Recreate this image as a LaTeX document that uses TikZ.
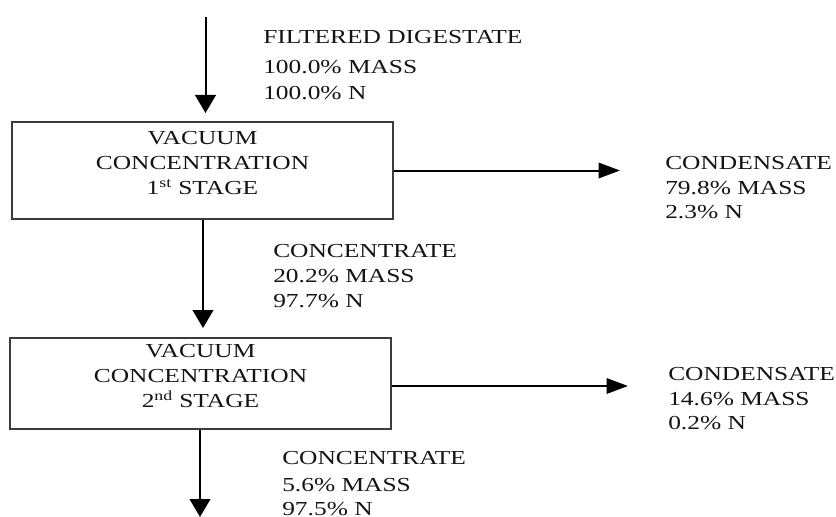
\documentclass[tikz,border=0pt]{standalone}
\usepackage{fontspec}
\setmainfont[FakeStretch=1.28]{Liberation Serif}
\usetikzlibrary{arrows.meta}

\definecolor{ink}{HTML}{141414}
\definecolor{frame}{HTML}{3C3C3C}

\tikzset{
  stagebox/.style={draw=frame, line width=1pt, rectangle, inner sep=0pt,
    align=center, text=ink, font=\fontsize{14.9}{18.75}\selectfont,
    text depth=11pt},
  lbl/.style={anchor=base west, inner sep=0pt, text=ink,
    font=\fontsize{14.9}{18.75}\selectfont},
  down/.style={draw=black, line width=1.5pt,
    -{Triangle[length=13.5pt,width=15.5pt]}},
  side/.style={draw=black, line width=1.5pt,
    -{Triangle[length=16pt,width=11.5pt]}},
}

\begin{document}
\begin{tikzpicture}[x=0.75pt,y=-0.75pt]
  \useasboundingbox (0,0) rectangle (836,517);

  % process stages
  \node[stagebox, minimum width=285.75pt, minimum height=72.75pt] (s1) at (202.5,170.5)
    {VACUUM\\CONCENTRATION\\1\textsuperscript{st} STAGE};
  \node[stagebox, minimum width=285.75pt, minimum height=68.25pt] (s2) at (200.5,383.5)
    {VACUUM\\CONCENTRATION\\2\textsuperscript{nd} STAGE};

  % free ends of the flows
  \coordinate (feed) at (205.5,17);
  \coordinate (in1) at (205.5,113);
  \coordinate (in2) at (203,328);
  \coordinate (out2) at (200,517);
  \coordinate (cond1) at (620,170.5);
  \coordinate (cond2) at (628,386);

  % flows
  \draw[down] (feed) -- (in1);
  \draw[down] (s1.south -| in2) -- (in2);
  \draw[down] (s2.south -| out2) -- (out2);
  \draw[side] (s1.east) -- (cond1);
  \draw[side] (s2.east |- cond2) -- (cond2);

  % stream labels
  \node[lbl] (fd1) at (263,44) {FILTERED DIGESTATE};
  \node[lbl] (fd2) at (263,74) {100.0\% MASS};
  \node[lbl] (fd3) at (263,100) {100.0\% N};

  \node[lbl] (ca1) at (665,170) {CONDENSATE};
  \node[lbl] (ca2) at (665,195) {79.8\% MASS};
  \node[lbl] (ca3) at (665,218) {2.3\% N};

  \node[lbl] (ct1) at (273,257) {CONCENTRATE};
  \node[lbl] (ct2) at (273,282) {20.2\% MASS};
  \node[lbl] (ct3) at (273,307) {97.7\% N};

  \node[lbl] (cb1) at (668,380) {CONDENSATE};
  \node[lbl] (cb2) at (668,405) {14.6\% MASS};
  \node[lbl] (cb3) at (668,429) {0.2\% N};

  \node[lbl] (cu1) at (282,464) {CONCENTRATE};
  \node[lbl] (cu2) at (282,491) {5.6\% MASS};
  \node[lbl] (cu3) at (282,515) {97.5\% N};
\end{tikzpicture}
\end{document}
